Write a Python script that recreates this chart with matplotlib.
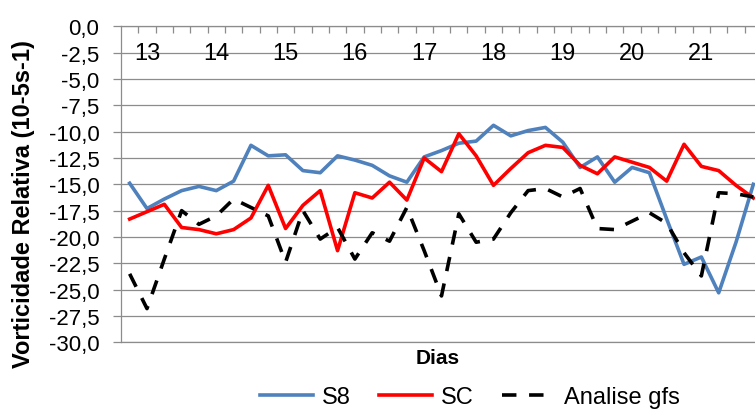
import numpy as np
import matplotlib
matplotlib.use("Agg")
import matplotlib.pyplot as plt

plt.rcParams['font.family'] = ['Liberation Sans', 'DejaVu Sans']

# valores a cada 6 h, do dia 12 18Z ate o dia 21 18Z
s8 = [-14.9, -17.3, -16.4, -15.6, -15.2, -15.6, -14.7, -11.3, -12.3, -12.2, -13.7, -13.9,
      -12.3, -12.7, -13.2, -14.2, -14.8, -12.4, -11.8, -11.1, -10.9, -9.4, -10.4, -9.9,
      -9.6, -11.0, -13.4, -12.4, -14.8, -13.4, -13.9, -18.3, -22.6, -21.9, -25.3, -20.5, -15.0]
sc = [-18.3, -17.6, -16.9, -19.1, -19.3, -19.7, -19.3, -18.2, -15.1, -19.2, -17.0, -15.6,
      -21.3, -15.8, -16.3, -14.8, -16.5, -12.5, -13.8, -10.2, -12.3, -15.1, -13.5, -12.0,
      -11.3, -11.5, -13.2, -14.0, -12.4, -12.9, -13.4, -14.7, -11.2, -13.3, -13.7, -15.1, -16.3]
gfs = [-23.5, -26.8, -22.1, -17.5, -18.8, -18.0, -16.4, -17.2, -18.0, -22.4, -17.5, -20.2,
       -19.1, -22.1, -19.6, -20.4, -17.2, -21.3, -25.6, -17.8, -20.5, -20.2, -17.7, -15.6,
       -15.4, -16.2, -15.4, -19.2, -19.3, -18.5, -17.7, -18.7, -21.5, -23.7, -15.8, -15.9, -16.2]
days = ['13', '14', '15', '16', '17', '18', '19', '20', '21']
series_names = ['S8', 'SC', 'Analise gfs']

grid_c = '#8c8c8c'
x = np.arange(len(s8))

fig = plt.figure(figsize=(7.55, 4.10), dpi=100)
ax = fig.add_axes([121 / 755, 1 - 343.3 / 410, (762 - 121) / 755, (343.3 - 27.3) / 410])

l1, = ax.plot(x, s8, color='#4F81BD', lw=2.6, solid_joinstyle='round')
l2, = ax.plot(x, sc, color='#FF0000', lw=2.6, solid_joinstyle='round')
l3, = ax.plot(x, gfs, color='black', lw=2.6, dashes=(4, 3.5))

ax.set_xlim(-0.5, len(s8) - 0.5)
ax.set_ylim(-30, 0)
yt = np.arange(-30, 0.1, 2.5)
ax.set_yticks(yt)
ax.set_yticklabels([f"{v:.1f}".replace('.', ',') for v in yt], fontsize=16)
ax.yaxis.grid(True, color=grid_c, lw=0.9)
ax.tick_params(axis='y', length=5.5, width=0.9, color=grid_c, pad=10)

ax.set_xticks([])
ax.set_xticks(np.arange(0.5, len(s8) - 1, 1), minor=True)
ax.tick_params(axis='x', which='minor', direction='in', length=5, width=0.9,
               color=grid_c, top=True, bottom=False)
for k, d in enumerate(days):
    ax.text(1 + 4 * k, 0.914, d, transform=ax.get_xaxis_transform(),
            ha='center', va='center', fontsize=17)

for s in ['left', 'top', 'bottom']:
    ax.spines[s].set_color(grid_c)
    ax.spines[s].set_linewidth(0.9)
ax.spines['right'].set_visible(False)

fig.text(24 / 755, 1 - 204 / 410, 'Vorticidade Relativa (10-5s-1)', rotation=90,
         ha='center', va='center', fontsize=17, fontweight='bold')
fig.text(438 / 755, 1 - 359 / 410, 'Dias', ha='center', va='center',
         fontsize=15, fontweight='bold')

fig.legend([l1, l2, l3], series_names, loc='center', bbox_to_anchor=(470 / 755, 1 - 398 / 410),
           ncol=3, frameon=False, fontsize=17, handlelength=2.25, handletextpad=0.38,
           columnspacing=1.2)

fig.savefig('out.png', dpi=100)
